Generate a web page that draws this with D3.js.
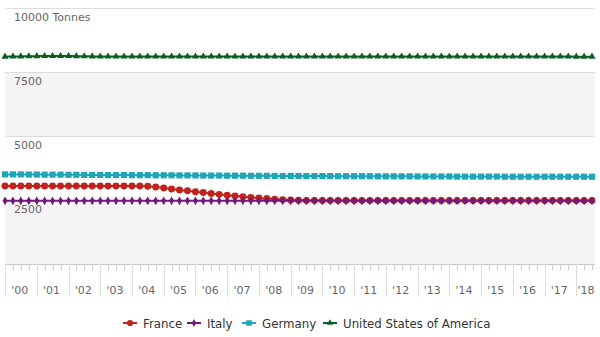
<!DOCTYPE html>
<html>
<head>
<meta charset="utf-8">
<script src="https://cdn.jsdelivr.net/npm/d3@7/dist/d3.min.js"></script>
<style>
  html, body { margin: 0; padding: 0; background: #fff; }
  svg { display: block; font-family: "DejaVu Sans", sans-serif; }
</style>
</head>
<body>
<svg id="chart" width="600" height="337"></svg>
<script>
// Quarterly series, first quarter 2000 through third quarter 2018
const periodStart = new Date(2000, 0, 1);
const periodEnd = new Date(2018, 6, 1);

const seriesNames = ["France", "Italy", "Germany", "United States of America"];

const france = [
  3050, 3050, 3050, 3050,  3050, 3050, 3050, 3050,  3050, 3050, 3050, 3050,
  3050, 3050, 3050, 3050,  3050, 3050, 3040, 3010,  2970, 2930, 2890, 2860,
  2820, 2790, 2750, 2720,  2690, 2660, 2630, 2600,  2575, 2555, 2535, 2515,
  2500, 2490, 2485, 2480,  2480, 2480, 2480, 2480,  2480, 2480, 2480, 2480,
  2480, 2480, 2480, 2480,  2480, 2480, 2480, 2480,  2480, 2480, 2480, 2480,
  2480, 2480, 2480, 2480,  2480, 2480, 2480, 2480,  2480, 2480, 2480, 2480,
  2480, 2480, 2480
];
const italy = [
  2470, 2470, 2470, 2470,  2470, 2470, 2470, 2470,  2470, 2470, 2470, 2470,
  2470, 2470, 2470, 2470,  2470, 2470, 2470, 2470,  2470, 2470, 2470, 2470,
  2470, 2470, 2470, 2470,  2470, 2470, 2470, 2470,  2470, 2470, 2470, 2470,
  2470, 2470, 2470, 2470,  2470, 2470, 2470, 2470,  2470, 2470, 2470, 2470,
  2470, 2470, 2470, 2470,  2470, 2470, 2470, 2470,  2470, 2470, 2470, 2470,
  2470, 2470, 2470, 2470,  2470, 2470, 2470, 2470,  2470, 2470, 2470, 2470,
  2470, 2470, 2470
];
const germany = [
  3500, 3500, 3500, 3495,  3495, 3490, 3490, 3490,  3485, 3485, 3480, 3480,
  3480, 3475, 3475, 3475,  3470, 3470, 3470, 3465,  3465, 3465, 3460, 3460,
  3460, 3455, 3455, 3455,  3450, 3450, 3450, 3445,  3445, 3445, 3440, 3440,
  3440, 3440, 3435, 3435,  3435, 3435, 3430, 3430,  3430, 3430, 3430, 3425,
  3425, 3425, 3425, 3425,  3420, 3420, 3420, 3420,  3420, 3415, 3415, 3415,
  3415, 3415, 3415, 3410,  3410, 3410, 3410, 3410,  3410, 3410, 3410, 3410,
  3410, 3410, 3410
];
const usa = [
  8100, 8105, 8110, 8115,  8120, 8125, 8125, 8125,  8125, 8120, 8115, 8110,
  8105, 8105, 8105, 8105,  8105, 8105, 8105, 8105,  8105, 8105, 8105, 8105,
  8105, 8105, 8105, 8105,  8105, 8105, 8105, 8105,  8105, 8105, 8105, 8105,
  8105, 8105, 8105, 8105,  8105, 8105, 8105, 8105,  8105, 8105, 8105, 8105,
  8105, 8105, 8105, 8105,  8105, 8105, 8105, 8105,  8105, 8105, 8105, 8105,
  8105, 8105, 8105, 8105,  8105, 8105, 8105, 8105,  8105, 8105, 8105, 8105,
  8100, 8100, 8100
];

const yTicks = [0, 2500, 5000, 7500, 10000];
const yUnit = "Tonnes";
const yearLabels = ["'00","'01","'02","'03","'04","'05","'06","'07","'08","'09",
  "'10","'11","'12","'13","'14","'15","'16","'17","'18"];

const colors = ["#c0231b", "#74197c", "#1ca6b6", "#0b5e22"];
const symbols = [d3.symbolCircle, d3.symbolDiamond, d3.symbolSquare, d3.symbolTriangle];
const symbolSizes = [38, 22, 38, 22];

const quarters = d3.timeMonth.every(3).range(periodStart, d3.timeMonth.offset(periodEnd, 1));
const seriesValues = [france, italy, germany, usa];

const svg = d3.select("#chart");
const plot = { left: 5, right: 595, top: 8, bottom: 264 };

const x = d3.scaleTime().domain([periodStart, periodEnd]).range([plot.left, 592]);
const y = d3.scaleLinear().domain([0, 10000]).range([plot.bottom, plot.top]);

// alternating horizontal bands
const bandPairs = d3.pairs(yTicks);
svg.append("g").selectAll("rect").data(bandPairs).join("rect")
  .attr("x", plot.left)
  .attr("width", plot.right - plot.left)
  .attr("y", d => y(d[1]))
  .attr("height", d => y(d[0]) - y(d[1]))
  .attr("fill", (d, i) => i % 2 === 0 ? "#f4f4f4" : "#ffffff");

// gridlines
svg.append("g").selectAll("line").data(yTicks.filter(v => v > 0)).join("line")
  .attr("x1", plot.left).attr("x2", plot.right)
  .attr("y1", d => Math.round(y(d)) + 0.5).attr("y2", d => Math.round(y(d)) + 0.5)
  .attr("stroke", "#dcdcdc").attr("stroke-width", 1);

// y-axis labels sit just under their gridline
svg.append("g").selectAll("text").data(yTicks.filter(v => v > 0)).join("text")
  .attr("x", 14)
  .attr("y", d => y(d) + 13)
  .attr("font-size", 11)
  .attr("fill", "#666")
  .text(d => d === 10000 ? d + " " + yUnit : d);

// x axis: line, yearly and quarterly ticks
const xAxis = svg.append("g");
xAxis.append("line")
  .attr("x1", plot.left).attr("x2", plot.right)
  .attr("y1", plot.bottom + 0.5).attr("y2", plot.bottom + 0.5)
  .attr("stroke", "#c8c8c8");

const years = d3.timeYear.range(periodStart, d3.timeYear.offset(periodEnd, 1));
xAxis.selectAll("line.major").data(years).join("line")
  .attr("class", "major")
  .attr("x1", d => Math.round(x(d)) + 0.5).attr("x2", d => Math.round(x(d)) + 0.5)
  .attr("y1", plot.bottom).attr("y2", plot.bottom + 33)
  .attr("stroke", "#dddddd");

const minorQuarters = quarters.filter(d => d.getMonth() !== 0);
xAxis.selectAll("line.minor").data(minorQuarters).join("line")
  .attr("class", "minor")
  .attr("x1", d => Math.round(x(d)) + 0.5).attr("x2", d => Math.round(x(d)) + 0.5)
  .attr("y1", plot.bottom).attr("y2", plot.bottom + 6)
  .attr("stroke", "#cccccc");

xAxis.selectAll("text").data(years).join("text")
  .attr("x", (d, i) => Math.min(x(d3.timeMonth.offset(d, 6)) - 1, 586))
  .attr("y", plot.bottom + 30)
  .attr("text-anchor", "middle")
  .attr("font-size", 11)
  .attr("fill", "#666")
  .text((d, i) => yearLabels[i]);

// series lines and markers
const line = d3.line()
  .x(d => x(d.date))
  .y(d => y(d.value))
  .curve(d3.curveMonotoneX);

seriesNames.forEach((name, s) => {
  const pts = quarters.map((date, i) => ({ date, value: seriesValues[s][i] }));
  const g = svg.append("g");
  g.append("path")
    .datum(pts)
    .attr("d", line)
    .attr("fill", "none")
    .attr("stroke", colors[s])
    .attr("stroke-width", 2);
  const sym = d3.symbol().type(symbols[s]).size(symbolSizes[s]);
  g.selectAll("path.m").data(pts).join("path")
    .attr("class", "m")
    .attr("transform", d => `translate(${x(d.date)},${y(d.value)})`)
    .attr("d", sym)
    .attr("fill", colors[s]);
});

// legend
const legendX = [123, 187, 242, 323];
const legend = svg.append("g");
seriesNames.forEach((name, s) => {
  const lg = legend.append("g").attr("transform", `translate(${legendX[s]},323)`);
  lg.append("line").attr("x1", 0).attr("x2", 14).attr("y1", 0).attr("y2", 0)
    .attr("stroke", colors[s]).attr("stroke-width", 2);
  lg.append("path").attr("transform", "translate(7,0)")
    .attr("d", d3.symbol().type(symbols[s]).size(symbolSizes[s] * 0.8)())
    .attr("fill", colors[s]);
  lg.append("text").attr("x", 20).attr("y", 4.5)
    .attr("font-size", 11.8).attr("fill", "#333")
    .text(name);
});
</script>
</body>
</html>
